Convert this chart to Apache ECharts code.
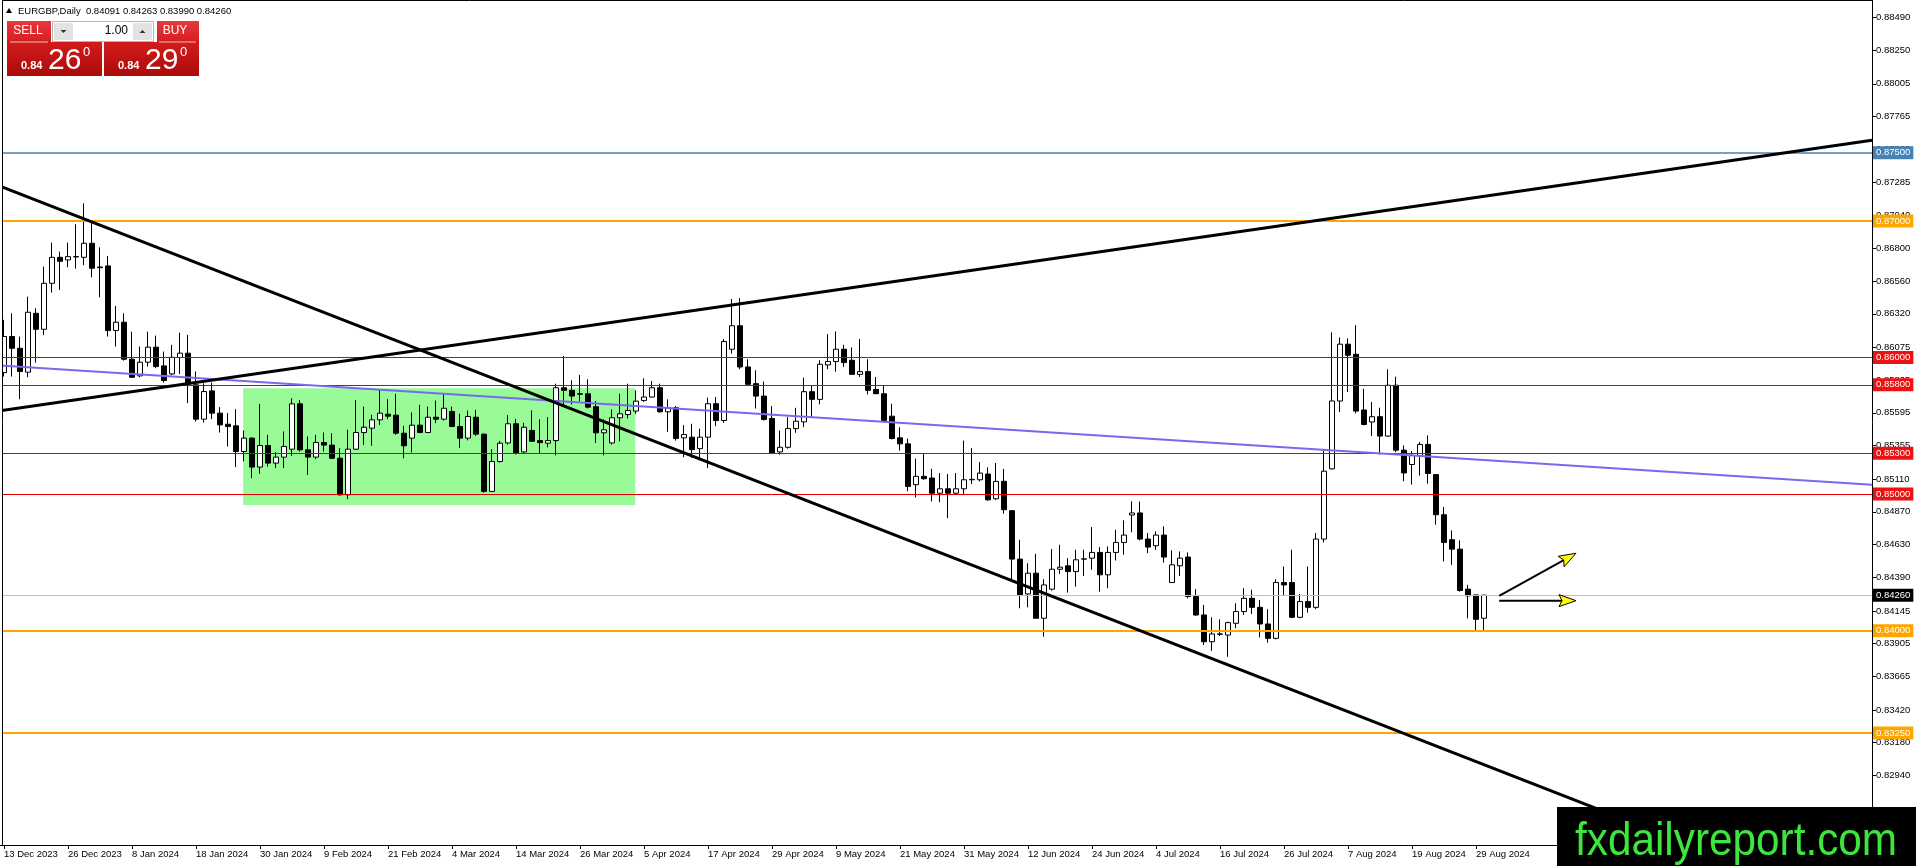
<!DOCTYPE html>
<html><head><meta charset="utf-8">
<script src="https://cdn.jsdelivr.net/npm/echarts@6/dist/echarts.min.js"></script>
<style>html,body{margin:0;padding:0;background:#fff;overflow:hidden}#c{width:1916px;height:866px}</style>
</head><body><div id="c"></div>
<script>
const dates = [
'13 Dec 2023','14 Dec 2023','15 Dec 2023','18 Dec 2023','19 Dec 2023','20 Dec 2023','21 Dec 2023','22 Dec 2023','26 Dec 2023','27 Dec 2023','28 Dec 2023','29 Dec 2023',
'2 Jan 2024','3 Jan 2024','4 Jan 2024','5 Jan 2024','8 Jan 2024','9 Jan 2024','10 Jan 2024','11 Jan 2024','12 Jan 2024','15 Jan 2024','16 Jan 2024','17 Jan 2024','18 Jan 2024','19 Jan 2024','22 Jan 2024','23 Jan 2024','24 Jan 2024','25 Jan 2024','26 Jan 2024','29 Jan 2024','30 Jan 2024','31 Jan 2024',
'1 Feb 2024','2 Feb 2024','5 Feb 2024','6 Feb 2024','7 Feb 2024','8 Feb 2024','9 Feb 2024','12 Feb 2024','13 Feb 2024','14 Feb 2024','15 Feb 2024','16 Feb 2024','19 Feb 2024','20 Feb 2024','21 Feb 2024','22 Feb 2024','23 Feb 2024','26 Feb 2024','27 Feb 2024','28 Feb 2024','29 Feb 2024',
'1 Mar 2024','4 Mar 2024','5 Mar 2024','6 Mar 2024','7 Mar 2024','8 Mar 2024','11 Mar 2024','12 Mar 2024','13 Mar 2024','14 Mar 2024','15 Mar 2024','18 Mar 2024','19 Mar 2024','20 Mar 2024','21 Mar 2024','22 Mar 2024','25 Mar 2024','26 Mar 2024','27 Mar 2024','28 Mar 2024','29 Mar 2024',
'1 Apr 2024','2 Apr 2024','3 Apr 2024','4 Apr 2024','5 Apr 2024','8 Apr 2024','9 Apr 2024','10 Apr 2024','11 Apr 2024','12 Apr 2024','15 Apr 2024','16 Apr 2024','17 Apr 2024','18 Apr 2024','19 Apr 2024','22 Apr 2024','23 Apr 2024','24 Apr 2024','25 Apr 2024','26 Apr 2024','29 Apr 2024','30 Apr 2024',
'1 May 2024','2 May 2024','3 May 2024','6 May 2024','7 May 2024','8 May 2024','9 May 2024','10 May 2024','13 May 2024','14 May 2024','15 May 2024','16 May 2024','17 May 2024','20 May 2024','21 May 2024','22 May 2024','23 May 2024','24 May 2024','27 May 2024','28 May 2024','29 May 2024','30 May 2024','31 May 2024',
'3 Jun 2024','4 Jun 2024','5 Jun 2024','6 Jun 2024','7 Jun 2024','10 Jun 2024','11 Jun 2024','12 Jun 2024','13 Jun 2024','14 Jun 2024','17 Jun 2024','18 Jun 2024','19 Jun 2024','20 Jun 2024','21 Jun 2024','24 Jun 2024','25 Jun 2024','26 Jun 2024','27 Jun 2024','28 Jun 2024',
'1 Jul 2024','2 Jul 2024','3 Jul 2024','4 Jul 2024','5 Jul 2024','8 Jul 2024','9 Jul 2024','10 Jul 2024','11 Jul 2024','12 Jul 2024','15 Jul 2024','16 Jul 2024','17 Jul 2024','18 Jul 2024','19 Jul 2024','22 Jul 2024','23 Jul 2024','24 Jul 2024','25 Jul 2024','26 Jul 2024','29 Jul 2024','30 Jul 2024','31 Jul 2024',
'1 Aug 2024','2 Aug 2024','5 Aug 2024','6 Aug 2024','7 Aug 2024','8 Aug 2024','9 Aug 2024','12 Aug 2024','13 Aug 2024','14 Aug 2024','15 Aug 2024','16 Aug 2024','19 Aug 2024','20 Aug 2024','21 Aug 2024','22 Aug 2024','23 Aug 2024','26 Aug 2024','27 Aug 2024','28 Aug 2024','29 Aug 2024','30 Aug 2024'
];
const opens = [
0.85890,0.86154,0.86068,0.85893,0.86324,0.86207,0.86544,0.86734,0.86715,0.86739,
0.86734,0.86837,0.86663,0.86671,0.86198,0.86259,0.85988,0.85866,0.85966,0.86076,
0.85939,0.85880,0.86000,0.86032,0.85800,0.85549,0.85756,0.85593,0.85512,0.85500,
0.85312,0.85410,0.85198,0.85356,0.85227,0.85271,0.85329,0.85661,0.85324,0.85271,
0.85378,0.85359,0.85263,0.84995,0.85329,0.85451,0.85483,0.85544,0.85585,0.85578,
0.85446,0.85410,0.85505,0.85451,0.85563,0.85549,0.85605,0.85495,0.85410,0.85563,
0.85439,0.85020,0.85239,0.85375,0.85515,0.85309,0.85466,0.85392,0.85373,0.85392,
0.85779,0.85760,0.85735,0.85735,0.85640,0.85449,0.85375,0.85559,0.85583,0.85608,
0.85686,0.85711,0.85779,0.85603,0.85632,0.85412,0.85417,0.85333,0.85417,0.85662,
0.85539,0.86061,0.86233,0.85931,0.85809,0.85718,0.85554,0.85309,0.85343,0.85480,
0.85529,0.85750,0.85694,0.85946,0.85971,0.86061,0.85980,0.85877,0.85897,0.85767,
0.85735,0.85571,0.85412,0.85368,0.85069,0.85130,0.85118,0.85007,0.85039,0.85007,
0.85039,0.85105,0.85105,0.85147,0.84966,0.85094,0.84879,0.84524,0.84269,0.84421,
0.84091,0.84304,0.84450,0.84475,0.84433,0.84524,0.84531,0.84573,0.84409,0.84573,
0.84646,0.84847,0.84862,0.84671,0.84622,0.84700,0.84353,0.84475,0.84539,0.84250,
0.84115,0.83919,0.83976,0.83968,0.84054,0.84140,0.84237,0.84171,0.84049,0.83944,
0.84353,0.84353,0.84098,0.84213,0.84171,0.84671,0.85185,0.85682,0.86098,0.86024,
0.85616,0.85528,0.85567,0.85425,0.85797,0.85322,0.85217,0.85283,0.85364,0.85143,
0.84849,0.84666,0.84597,0.84304,0.84262,0.84091
];
const closes = [
0.86154,0.86068,0.85898,0.86332,0.86207,0.86544,0.86734,0.86705,0.86739,0.86737,
0.86837,0.86654,0.86658,0.86198,0.86259,0.85988,0.85856,0.85966,0.86076,0.85934,
0.85832,0.86002,0.86032,0.85812,0.85549,0.85751,0.85593,0.85507,0.85495,0.85312,
0.85410,0.85198,0.85356,0.85227,0.85271,0.85349,0.85661,0.85324,0.85271,0.85378,
0.85359,0.85263,0.84995,0.85329,0.85451,0.85490,0.85544,0.85593,0.85571,0.85446,
0.85354,0.85505,0.85451,0.85563,0.85549,0.85629,0.85495,0.85410,0.85568,0.85439,
0.85020,0.85239,0.85373,0.85515,0.85301,0.85490,0.85387,0.85377,0.85392,0.85779,
0.85760,0.85718,0.85732,0.85637,0.85449,0.85471,0.85559,0.85588,0.85613,0.85681,
0.85711,0.85779,0.85603,0.85632,0.85407,0.85436,0.85326,0.85417,0.85662,0.85539,
0.86118,0.86233,0.85931,0.85804,0.85718,0.85547,0.85301,0.85343,0.85480,0.85534,
0.85750,0.85694,0.85951,0.85971,0.86061,0.85963,0.85877,0.85897,0.85760,0.85735,
0.85539,0.85407,0.85368,0.85056,0.85130,0.85113,0.85007,0.85039,0.85007,0.85039,
0.85105,0.85108,0.85154,0.84958,0.85093,0.84886,0.84524,0.84262,0.84421,0.84091,
0.84335,0.84450,0.84465,0.84433,0.84519,0.84526,0.84573,0.84409,0.84573,0.84646,
0.84700,0.84862,0.84671,0.84612,0.84700,0.84539,0.84482,0.84531,0.84250,0.84115,
0.83919,0.83976,0.83974,0.84059,0.84140,0.84237,0.84171,0.84049,0.83944,0.84353,
0.84335,0.84098,0.84213,0.84171,0.84671,0.85168,0.85682,0.86098,0.86017,0.85608,
0.85510,0.85567,0.85425,0.85797,0.85322,0.85155,0.85283,0.85364,0.85151,0.84849,
0.84646,0.84597,0.84294,0.84255,0.84083,0.84260
];
const lows = [
0.85861,0.85861,0.85695,0.85856,0.85963,0.86166,0.86476,0.86495,0.86661,0.86651,
0.86676,0.86588,0.86441,0.86154,0.86081,0.85978,0.85850,0.85856,0.85934,0.85922,
0.85817,0.85871,0.85880,0.85666,0.85532,0.85524,0.85549,0.85451,0.85349,0.85198,
0.85239,0.85117,0.85149,0.85202,0.85190,0.85190,0.85280,0.85312,0.85141,0.85256,
0.85312,0.85256,0.84988,0.84963,0.85324,0.85361,0.85354,0.85507,0.85549,0.85434,
0.85263,0.85305,0.85446,0.85446,0.85520,0.85539,0.85490,0.85337,0.85393,0.85427,
0.85010,0.85015,0.85230,0.85363,0.85289,0.85301,0.85382,0.85301,0.85343,0.85284,
0.85657,0.85657,0.85681,0.85627,0.85375,0.85284,0.85363,0.85387,0.85554,0.85588,
0.85676,0.85706,0.85596,0.85456,0.85392,0.85270,0.85265,0.85260,0.85191,0.85498,
0.85522,0.86029,0.85914,0.85800,0.85627,0.85539,0.85296,0.85289,0.85333,0.85449,
0.85490,0.85559,0.85657,0.85914,0.85897,0.85931,0.85877,0.85858,0.85730,0.85735,
0.85529,0.85400,0.85319,0.85020,0.84975,0.85105,0.84946,0.84941,0.84824,0.84995,
0.84995,0.85074,0.85093,0.84951,0.84958,0.84857,0.84377,0.84164,0.84171,0.84091,
0.83956,0.84294,0.84416,0.84279,0.84323,0.84401,0.84446,0.84286,0.84311,0.84514,
0.84556,0.84720,0.84661,0.84568,0.84592,0.84499,0.84348,0.84401,0.84237,0.84108,
0.83895,0.83853,0.83961,0.83809,0.84017,0.84115,0.84122,0.83951,0.83912,0.83936,
0.84255,0.84091,0.84091,0.84132,0.84157,0.84646,0.85180,0.85601,0.85748,0.85591,
0.85503,0.85425,0.85290,0.85420,0.85307,0.85094,0.85070,0.85136,0.85077,0.84776,
0.84507,0.84482,0.84286,0.84091,0.84000,0.83990
];
const highs = [
0.86276,0.86324,0.86154,0.86446,0.86361,0.86666,0.86841,0.86776,0.86841,0.86976,
0.87129,0.86995,0.86807,0.86744,0.86378,0.86324,0.86190,0.86081,0.86190,0.86161,
0.86044,0.86093,0.86183,0.86166,0.85898,0.85812,0.85817,0.85637,0.85593,0.85622,
0.85466,0.85417,0.85661,0.85434,0.85307,0.85459,0.85702,0.85690,0.85422,0.85434,
0.85451,0.85446,0.85337,0.85471,0.85690,0.85641,0.85581,0.85763,0.85695,0.85734,
0.85500,0.85598,0.85654,0.85641,0.85685,0.85739,0.85641,0.85588,0.85612,0.85617,
0.85445,0.85329,0.85390,0.85578,0.85551,0.85522,0.85613,0.85547,0.85564,0.85809,
0.86012,0.85833,0.85873,0.85841,0.85681,0.85547,0.85620,0.85735,0.85809,0.85760,
0.85848,0.85828,0.85809,0.85694,0.85645,0.85505,0.85515,0.85480,0.85706,0.85711,
0.86135,0.86429,0.86436,0.85988,0.85907,0.85824,0.85645,0.85466,0.85564,0.85632,
0.85853,0.85799,0.85980,0.86172,0.86191,0.86093,0.86074,0.86135,0.85988,0.85858,
0.85792,0.85662,0.85490,0.85407,0.85260,0.85294,0.85186,0.85154,0.85147,0.85154,
0.85392,0.85338,0.85235,0.85196,0.85228,0.85185,0.84879,0.84666,0.84494,0.84563,
0.84377,0.84597,0.84629,0.84531,0.84592,0.84592,0.84759,0.84612,0.84617,0.84739,
0.84808,0.84947,0.84945,0.84715,0.84727,0.84764,0.84588,0.84580,0.84573,0.84304,
0.84189,0.84098,0.84083,0.84066,0.84201,0.84311,0.84299,0.84225,0.84157,0.84377,
0.84470,0.84592,0.84269,0.84470,0.84715,0.85327,0.86184,0.86147,0.86140,0.86237,
0.85772,0.85674,0.85633,0.85914,0.85860,0.85356,0.85315,0.85381,0.85430,0.85143,
0.84906,0.84734,0.84661,0.84335,0.84262,0.84263
];
const yTicks = [0.88490,0.88250,0.88005,0.87765,0.87525,0.87285,0.87040,0.86800,0.86560,0.86320,0.86075,0.85835,0.85595,0.85355,0.85110,0.84870,0.84630,0.84390,0.84145,0.83905,0.83665,0.83420,0.83180,0.82940];
const blueLevels = [0.87500];
const orangeLevels = [0.87000, 0.84000, 0.83250];
const redLevels = [0.86000, 0.85800, 0.85300, 0.85000];
const lastPrice = 0.84260;
const descTrend = [[-0.5, 0.87256], [233.5, 0.81911]];
const ascTrend = [[-0.5, 0.85611], [233.5, 0.87592]];
const blueTrend = [[-0.5, 0.85941], [233.5, 0.85068]];
const boxBars = [29.9, 78.9];
const boxPrices = [0.85775, 0.84920];
const arrows = [[186.9, 0.84254, 196.5, 0.84567], [186.9, 0.84220, 196.5, 0.84220]];

const FONT = "'Liberation Sans', Arial, sans-serif";
const SLOTS = 234;
const cats = dates.concat(Array.from({length: SLOTS - dates.length}, (_, k) => 'slot' + k));
const candles = dates.map((d, i) => [opens[i], closes[i], lows[i], highs[i]]);
const showDate = (idx) => idx % 8 === 0 && idx < dates.length;

function level(v, color, width, bg) {
  return {
    yAxis: v,
    lineStyle: {color: color, width: width, type: 'solid'},
    label: {show: true, position: 'end', distance: 1, formatter: v.toFixed(5),
      color: '#fff', backgroundColor: bg || color, padding: [2, 3, 1, 3], fontSize: 9.5, fontFamily: FONT}
  };
}
const levelData = []
  .concat(blueLevels.map(v => level(v, '#4682B4', 1.5)))
  .concat(orangeLevels.map(v => level(v, '#FFA500', 2)))
  .concat(redLevels.map(v => level(v, '#E00000', 1, '#EE1111')))
  .concat([level(lastPrice, '#C0C0C0', 1, '#000000')]);

const chart = echarts.init(document.getElementById('c'), null, {renderer: 'canvas'});
const redTop = () => new echarts.graphic.LinearGradient(0, 0, 0, 1, [{offset: 0, color: '#E8383C'}, {offset: 1, color: '#D41E22'}]);
const redLow = () => new echarts.graphic.LinearGradient(0, 0, 0, 1, [{offset: 0, color: '#D21C1C'}, {offset: 1, color: '#AC0A0A'}]);

chart.setOption({
  animation: false,
  backgroundColor: '#ffffff',
  grid: {left: 0, right: 44, top: 0, bottom: 21, containLabel: false, outerBoundsMode: 'none'},
  xAxis: [{
    type: 'category', data: cats, boundaryGap: true,
    axisLine: {show: true, onZero: false, lineStyle: {color: '#000', width: 1}},
    axisTick: {show: true, alignWithLabel: true, length: 4, interval: showDate, lineStyle: {color: '#000'}},
    axisLabel: {show: true, interval: showDate, align: 'left', margin: 4, color: '#000', fontSize: 9.5, fontFamily: FONT,
      formatter: (v, idx) => idx < dates.length ? v : ''},
    splitLine: {show: false}
  }, {
    type: 'value', min: -0.5, max: SLOTS - 0.5, show: false,
    axisLine: {show: false, onZero: false}, axisTick: {show: false}, axisLabel: {show: false}, splitLine: {show: false}
  }],
  yAxis: [{
    type: 'value', position: 'right', min: 0.824306, max: 0.886183,
    axisLine: {show: true, onZero: false, lineStyle: {color: '#000', width: 1}},
    axisTick: {show: true, length: 4, customValues: yTicks, lineStyle: {color: '#000'}},
    axisLabel: {show: true, customValues: yTicks, margin: 4, color: '#000', fontSize: 9.5, fontFamily: FONT,
      formatter: (v) => Number(v).toFixed(5)},
    splitLine: {show: false}
  }],
  series: [
    {
      type: 'line', xAxisIndex: 1, yAxisIndex: 0, z: 0, silent: true,
      data: [[boxBars[0], boxPrices[0]], [boxBars[1], boxPrices[1]]],
      symbol: 'none', lineStyle: {opacity: 0},
      markArea: {silent: true, z: 0, itemStyle: {color: '#98FB98', opacity: 1},
        data: [[{coord: [boxBars[0], boxPrices[0]]}, {coord: [boxBars[1], boxPrices[1]]}]]}
    },
    {
      type: 'candlestick', xAxisIndex: 0, yAxisIndex: 0, z: 2, silent: true,
      data: candles, barWidth: 5,
      itemStyle: {color: '#ffffff', color0: '#000000', borderColor: '#000000', borderColor0: '#000000', borderWidth: 1}
    },
    {
      type: 'line', xAxisIndex: 1, yAxisIndex: 0, z: 3, silent: true, data: [],
      markLine: {silent: true, precision: 5, symbol: ['none', 'none'], z: 3, data: levelData}
    },
    {type: 'line', xAxisIndex: 1, yAxisIndex: 0, z: 4, silent: true, data: blueTrend, symbol: 'none',
      lineStyle: {color: '#7B68EE', width: 2}},
    {type: 'line', xAxisIndex: 1, yAxisIndex: 0, z: 5, silent: true, data: descTrend, symbol: 'none',
      lineStyle: {color: '#000', width: 3}},
    {type: 'line', xAxisIndex: 1, yAxisIndex: 0, z: 5, silent: true, data: ascTrend, symbol: 'none',
      lineStyle: {color: '#000', width: 3}},
    {
      type: 'custom', xAxisIndex: 1, yAxisIndex: 0, z: 6, silent: true, data: arrows,
      encode: {x: [0, 2], y: [1, 3]},
      renderItem: function (params, api) {
        const a = api.coord([api.value(0), api.value(1)]);
        const b = api.coord([api.value(2), api.value(3)]);
        const dx = b[0] - a[0], dy = b[1] - a[1];
        const len = Math.sqrt(dx * dx + dy * dy);
        const ux = dx / len, uy = dy / len;
        const hl = 17, hw = 6;
        const base = [b[0] - ux * hl, b[1] - uy * hl];
        const notch = [b[0] - ux * (hl - 3), b[1] - uy * (hl - 3)];
        const l = [base[0] - uy * hw, base[1] + ux * hw];
        const r = [base[0] + uy * hw, base[1] - ux * hw];
        return {type: 'group', children: [
          {type: 'line', shape: {x1: a[0], y1: a[1], x2: notch[0], y2: notch[1]}, style: {stroke: '#000', lineWidth: 2}},
          {type: 'polygon', shape: {points: [b, l, notch, r]}, style: {fill: '#FFFF00', stroke: '#000', lineWidth: 1}}
        ]};
      }
    }
  ],
  graphic: [
    {type: 'rect', z: 49, shape: {x: 0, y: 0, width: 2, height: 845}, style: {fill: '#fff'}},
    {type: 'line', z: 50, shape: {x1: 2.5, y1: 0, x2: 2.5, y2: 845}, style: {stroke: '#000', lineWidth: 1}},
    {type: 'line', z: 50, shape: {x1: 2, y1: 0.5, x2: 1872, y2: 0.5}, style: {stroke: '#000', lineWidth: 1}},
    {type: 'polygon', z: 60, shape: {points: [[6, 13], [12, 13], [9, 8]]}, style: {fill: '#000'}},
    {type: 'text', z: 60, x: 18, y: 11, style: {text: 'EURGBP,Daily  0.84091 0.84263 0.83990 0.84260', fill: '#000',
      font: '9.5px ' + FONT, verticalAlign: 'middle', align: 'left'}},
    {type: 'rect', z: 60, shape: {x: 7, y: 21, width: 44, height: 21}, style: {fill: redTop()}},
    {type: 'rect', z: 60, shape: {x: 7, y: 42, width: 95, height: 34}, style: {fill: redLow()}},
    {type: 'line', z: 61, shape: {x1: 10, y1: 42, x2: 48, y2: 42}, style: {stroke: 'rgba(255,255,255,0.7)', lineWidth: 1}},
    {type: 'text', z: 61, x: 28, y: 31, style: {text: 'SELL', fill: '#fff', font: '12px ' + FONT, align: 'center', verticalAlign: 'middle'}},
    {type: 'rect', z: 60, shape: {x: 157, y: 21, width: 42, height: 21}, style: {fill: redTop()}},
    {type: 'rect', z: 60, shape: {x: 104, y: 42, width: 95, height: 34}, style: {fill: redLow()}},
    {type: 'line', z: 61, shape: {x1: 159, y1: 42, x2: 196, y2: 42}, style: {stroke: 'rgba(255,255,255,0.7)', lineWidth: 1}},
    {type: 'text', z: 61, x: 175, y: 31, style: {text: 'BUY', fill: '#fff', font: '12px ' + FONT, align: 'center', verticalAlign: 'middle'}},
    {type: 'rect', z: 60, shape: {x: 52.5, y: 21.5, width: 101, height: 20}, style: {fill: '#fff', stroke: '#B4B4B4', lineWidth: 1}},
    {type: 'rect', z: 61, shape: {x: 54, y: 23, width: 19, height: 17}, style: {fill: '#E3E3E3'}},
    {type: 'rect', z: 61, shape: {x: 133, y: 23, width: 19, height: 17}, style: {fill: '#E3E3E3'}},
    {type: 'polygon', z: 62, shape: {points: [[60.5, 30], [66.5, 30], [63.5, 33]]}, style: {fill: '#333'}},
    {type: 'polygon', z: 62, shape: {points: [[139.5, 33], [145.5, 33], [142.5, 30]]}, style: {fill: '#333'}},
    {type: 'text', z: 62, x: 128, y: 31, style: {text: '1.00', fill: '#000', font: '12px ' + FONT, align: 'right', verticalAlign: 'middle'}},
    {type: 'text', z: 62, x: 21, y: 66, style: {text: '0.84', fill: '#fff', font: 'bold 11px ' + FONT, align: 'left', verticalAlign: 'middle'}},
    {type: 'text', z: 62, x: 48, y: 61, style: {text: '26', fill: '#fff', font: '30px ' + FONT, align: 'left', verticalAlign: 'middle'}},
    {type: 'text', z: 62, x: 83, y: 52, style: {text: '0', fill: '#fff', font: '13px ' + FONT, align: 'left', verticalAlign: 'middle'}},
    {type: 'text', z: 62, x: 118, y: 66, style: {text: '0.84', fill: '#fff', font: 'bold 11px ' + FONT, align: 'left', verticalAlign: 'middle'}},
    {type: 'text', z: 62, x: 145, y: 61, style: {text: '29', fill: '#fff', font: '30px ' + FONT, align: 'left', verticalAlign: 'middle'}},
    {type: 'text', z: 62, x: 180, y: 52, style: {text: '0', fill: '#fff', font: '13px ' + FONT, align: 'left', verticalAlign: 'middle'}},
    {type: 'rect', z: 90, shape: {x: 1557, y: 807, width: 359, height: 59}, style: {fill: '#000'}},
    {type: 'text', z: 91, x: 1575, y: 842, scaleX: 0.9, originX: 0, originY: 0,
      style: {text: 'fxdailyreport.com', fill: '#3CE63C', font: '47px ' + FONT, align: 'left', verticalAlign: 'middle'}}
  ]
});
</script>
</body></html>
